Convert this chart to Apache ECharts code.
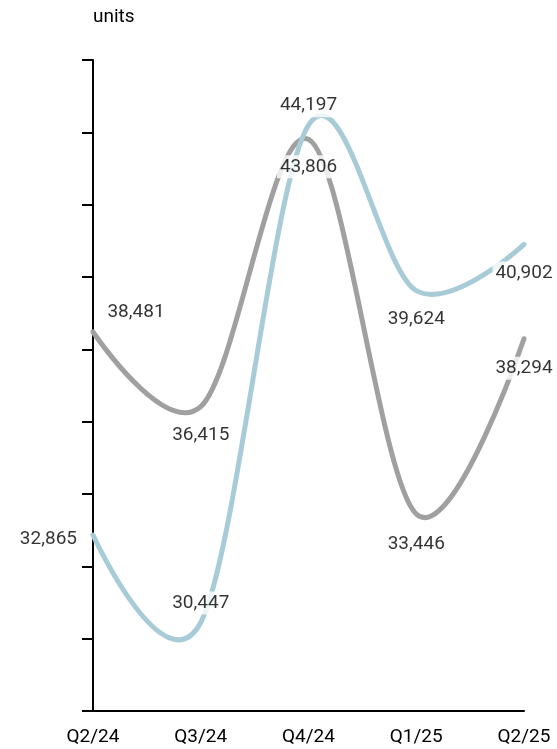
<!DOCTYPE html>
<html>
<head>
<meta charset="utf-8">
<script src="https://cdn.jsdelivr.net/npm/echarts@6/dist/echarts.min.js"></script>
<style>
  html, body { margin: 0; padding: 0; background: #fff; }
  #chart { width: 557px; height: 749px; }
</style>
</head>
<body>
<div id="chart"></div>
<script>
// Quarterly volumes, in units
const categories = ['Q2/24', 'Q3/24', 'Q4/24', 'Q1/25', 'Q2/25'];
const grayValues = [38481, 36415, 43806, 33446, 38294];
const blueValues = [32865, 30447, 44197, 39624, 40902];
const axisMin = 28000;
const axisMax = 46000;
const axisStep = 2000;

const GRAY = '#a0a0a0';
const BLUE = '#a8cbd8';
const TEXT = '#000';
const FONT = 'Roboto';
const FONT_SIZE = 19;

// where each value label sits relative to its point
const grayLabelPlacement = [
  { position: 'top', distance: 8, offset: [43, 0] },
  { position: 'bottom', distance: 17 },
  { position: 'bottom', distance: 16 },
  { position: 'bottom', distance: 19 },
  { position: 'bottom', distance: 18 }
];
const blueLabelPlacement = [
  { position: 'left', distance: 13, offset: [0, 4] },
  { position: 'top', distance: 8 },
  { position: 'top', distance: 8 },
  { position: 'bottom', distance: 17 },
  { position: 'bottom', distance: 17 }
];

const fmt = v => v.toLocaleString('en-US');

function labelledPoints(values, placement) {
  return values.map((v, i) => ({
    value: [i, v],
    label: Object.assign({}, placement[i])
  }));
}

// Cardinal spline (tension 0) through the projected points;
// end segments use the end point itself as control point.
function cardinalPath(pts) {
  const k = 1 / 6;
  const n = pts.length;
  let d = 'M' + pts[0][0] + ',' + pts[0][1];
  for (let i = 0; i < n - 1; i++) {
    const a = pts[i], b = pts[i + 1];
    const c1 = i === 0 ? a : [a[0] + k * (b[0] - pts[i - 1][0]), a[1] + k * (b[1] - pts[i - 1][1])];
    const c2 = i === n - 2 ? b : [b[0] + k * (a[0] - pts[i + 2][0]), b[1] + k * (a[1] - pts[i + 2][1])];
    d += 'C' + c1[0] + ',' + c1[1] + ' ' + c2[0] + ',' + c2[1] + ' ' + b[0] + ',' + b[1];
  }
  return d;
}

function curveSeries(values, color, z) {
  return {
    type: 'custom',
    data: values.map((v, i) => [i, v]),
    encode: { x: 0, y: 1 },
    clip: false,
    z: z,
    silent: true,
    renderItem: function (params, api) {
      if (params.dataIndex !== 0) return null;
      const pts = values.map((v, i) => api.coord([i, v]));
      return {
        type: 'path',
        shape: { pathData: cardinalPath(pts) },
        style: { fill: null, stroke: color, lineWidth: 5, lineCap: 'round', lineJoin: 'round' }
      };
    }
  };
}

const labelStyle = {
  show: true,
  formatter: p => fmt(p.value[1]),
  color: TEXT,
  fontFamily: FONT,
  fontSize: FONT_SIZE,
  backgroundColor: '#fff',
  padding: [2, 3]
};

const chart = echarts.init(document.getElementById('chart'), null, { renderer: 'canvas' });

chart.setOption({
  animation: false,
  backgroundColor: '#fff',
  grid: { left: 93, right: 33, top: 60, bottom: 38, containLabel: false },
  xAxis: {
    type: 'category',
    data: categories,
    boundaryGap: false,
    axisLine: { show: true, lineStyle: { color: '#000', width: 2 } },
    axisTick: { show: false },
    axisLabel: { color: TEXT, fontFamily: FONT, fontSize: FONT_SIZE, margin: 17 },
    splitLine: { show: false }
  },
  yAxis: {
    type: 'value',
    min: axisMin,
    max: axisMax,
    interval: axisStep,
    name: 'units',
    nameLocation: 'end',
    nameGap: 43,
    nameTextStyle: { color: TEXT, fontFamily: FONT, fontSize: FONT_SIZE, align: 'left', verticalAlign: 'middle' },
    axisLine: { show: true, lineStyle: { color: '#000', width: 2 } },
    axisTick: { show: true, inside: false, length: 11, lineStyle: { color: '#000', width: 2 } },
    axisLabel: { show: false },
    splitLine: { show: false }
  },
  series: [
    curveSeries(grayValues, GRAY, 2),
    curveSeries(blueValues, BLUE, 3),
    // value labels kept above both curves
    {
      type: 'scatter',
      data: labelledPoints(grayValues, grayLabelPlacement),
      symbolSize: 0,
      label: labelStyle,
      z: 10,
      silent: true
    },
    {
      type: 'scatter',
      data: labelledPoints(blueValues, blueLabelPlacement),
      symbolSize: 0,
      label: labelStyle,
      z: 10,
      silent: true
    }
  ]
});
</script>
</body>
</html>
